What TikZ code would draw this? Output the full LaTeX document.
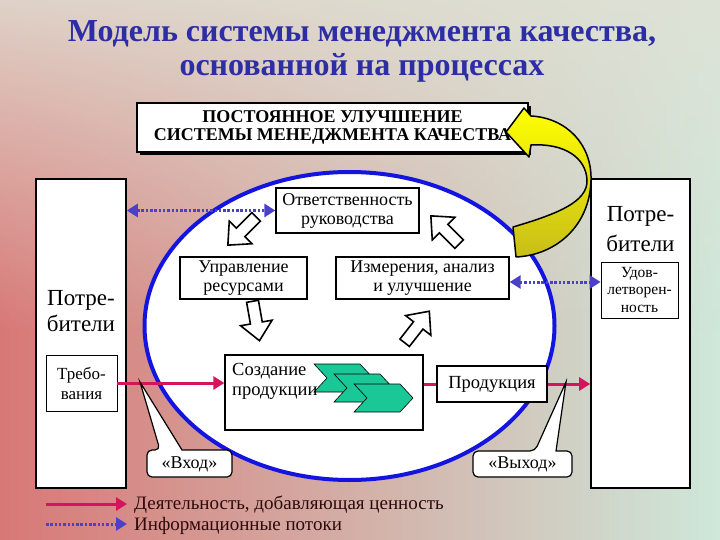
\documentclass[tikz,border=0pt]{standalone}
\usepackage{fontspec}
\setmainfont{Liberation Serif}
\usepackage{tikz}
\usetikzlibrary{
	arrows.meta,									% наконечники стрелок
	fadings,										% прозрачный градиент фона
	shadows,										% тень рамки
}

\definecolor{bgL}{RGB}{216,120,118}
\definecolor{bgM}{RGB}{214,172,162}
\definecolor{bgR}{RGB}{206,232,218}
\definecolor{bgT}{RGB}{224,226,214}
\definecolor{titleblue}{RGB}{45,45,165}
\definecolor{ellblue}{RGB}{20,20,225}
\definecolor{infoblue}{RGB}{75,65,200}
\definecolor{valpink}{RGB}{212,20,92}
\definecolor{chevgreen}{RGB}{25,200,150}
\definecolor{yarrtop}{RGB}{255,255,0}
\definecolor{yarrbot}{RGB}{200,190,25}
\definecolor{legtext}{RGB}{45,10,10}

% полая стрелка цикла: центр x, центр y, угол
\newcommand{\blockarr}[3]{%
	\draw[line width=1.6pt, fill=white, shift={(#1,#2)}, rotate=#3]
		(-20,-6) -- (2,-6) -- (2,-16) -- (20,0) -- (2,16) -- (2,6) -- (-20,6) -- cycle;}
% зелёный шеврон: левый верхний угол
\newcommand{\prodchev}[2]{%
	\draw[fill=chevgreen, line width=0.6pt, shift={(#1,#2)}]
		(0,0) -- (46,0) -- (59,14) -- (46,28) -- (0,28) -- (13,14) -- cycle;}

\begin{document}
\begin{tikzpicture}[x=1pt, y=-1pt,
	procbox/.style={draw, fill=white, line width=1.3pt, align=center, inner sep=1pt, font=\fontsize{18}{19}\selectfont},
	custbox/.style={draw, fill=white, line width=1.6pt, minimum height=309pt, inner sep=0pt},
	smallbox/.style={draw, fill=white, line width=0.8pt, align=center, inner sep=1pt},
	custtext/.style={align=center, inner sep=0pt, font=\fontsize{23}{26}\selectfont},
	>={Triangle[length=11pt, width=13pt]},
	valarr/.style={draw=valpink, line width=3pt, ->},
	infoarr/.style={draw=infoblue, line width=3pt, dash pattern=on 2.5pt off 1.8pt},
	callout/.style={draw, fill=white, line width=1.2pt},
	legend/.style={anchor=west, inner sep=0pt, text=legtext, font=\fontsize{19}{18}\selectfont},
]
	\useasboundingbox (0,0) rectangle (720,540);
	\shade[left color=bgL, middle color=bgM, right color=bgR] (0,0) rectangle (720,540);
	\fill[bgT, path fading=south, fill opacity=0.85] (0,0) rectangle (720,330);

	\node[text=titleblue, align=center, font=\bfseries\fontsize{32}{34}\selectfont] (title) at (362,51)
		{Модель системы менеджмента качества,\\основанной на процессах};
	\node[draw, fill=white, line width=1.2pt, minimum width=391pt, minimum height=49pt, align=center,
		font=\bfseries\fontsize{18}{18}\selectfont,
		drop shadow={shadow xshift=3pt, shadow yshift=-3pt, fill=black, opacity=1}] (kaizen) at (332.5,127.5)
		{ПОСТОЯННОЕ УЛУЧШЕНИЕ\\СИСТЕМЫ МЕНЕДЖМЕНТА КАЧЕСТВА};

	% процессный круг
	\draw[line width=4pt, draw=ellblue, fill=white] (349.5,326) ellipse [x radius=205, y radius=154];

	\node[custbox, minimum width=90pt] (potrL) at (81,333.5) {};
	\node[custtext] (potrLtxt) at (81,311) {Потре-\\бители};
	\node[smallbox, minimum width=71pt, minimum height=56pt, font=\fontsize{17}{20}\selectfont] (treb) at (81.5,383) {Требо-\\вания};
	\node[custbox, minimum width=99pt] (potrR) at (640.5,333.5) {};
	\node[custtext, font=\fontsize{23}{30}\selectfont] (potrRtxt) at (640.5,229) {Потре-\\бители};
	\node[smallbox, minimum width=77pt, minimum height=56pt, font=\fontsize{15.5}{17.5}\selectfont] (udov) at (639.5,290) {Удов-\\летворен-\\ность};

	\node[procbox, minimum width=143pt, minimum height=45pt] (otv) at (347.5,210.5) {Ответственность\\руководства};
	\node[procbox, minimum width=127pt, minimum height=42pt] (upr) at (243.5,278) {Управление\\ресурсами};
	\node[procbox, minimum width=173pt, minimum height=42pt] (izm) at (422.5,278) {Измерения, анализ\\и улучшение};

	\blockarr{242}{231}{225}
	\blockarr{445}{230}{135}
	\blockarr{256}{321}{-80}
	\blockarr{417}{327}{52}

	\prodchev{314}{364}
	\prodchev{334}{374}
	\prodchev{354}{384}
	\node[procbox, fill=none, minimum width=198pt, minimum height=75pt] (sozd) at (324,392.5) {};
	\node[anchor=north west, align=left, inner sep=0pt, font=\fontsize{18.5}{20}\selectfont] (sozdtxt) at (232,363) {Создание\\продукции};
	\node[procbox, minimum width=110pt, minimum height=36pt, font=\fontsize{18.5}{20}\selectfont] (prod) at (492,384) {Продукция};

	% потоки
	\draw[valarr] (treb.east) -- (treb.east -| sozd.west);
	\draw[valarr, -] (sozd.east |- prod.west) -- (prod.west);
	\draw[valarr] (prod.east) -- (prod.east -| potrR.west);
	\draw[infoarr, <->] (potrL.east |- otv.west) -- (otv.west);
	\draw[infoarr, <->] ([yshift=-4pt]izm.east) -- ([yshift=-4pt]izm.east -| udov.west);

	% выноски
	\draw[callout, rounded corners=5pt] (147,464) |- (160,450) [sharp corners] -- (140,382) -- (182,450)
		[rounded corners=5pt] -| (232,477) -| (147,464) -- cycle;
	\node[inner sep=0pt, font=\fontsize{18}{20}\selectfont] (vhod) at (189.5,464) {«Вход»};
	\draw[callout, rounded corners=5pt] (473,464) |- (535,451) [sharp corners] -- (566,382) -- (556,451)
		[rounded corners=5pt] -| (572,477) -| (473,464) -- cycle;
	\node[inner sep=0pt, font=\fontsize{18}{20}\selectfont] (vyhod) at (522.5,464) {«Выход»};

	% жёлтая стрелка улучшения
	\draw[line width=1.5pt, line join=round, top color=yarrtop, middle color=yarrtop, bottom color=yarrbot]
		(513,227) .. controls (557,214) and (588,202) .. (587,180)
		.. controls (586,158) and (565,143) .. (531,145)
		-- (529,157) -- (506,132) -- (524,108) -- (531,116)
		.. controls (567,118) and (592,145) .. (591,180)
		.. controls (590,225) and (557,255) .. (516,257) -- cycle;

	% легенда
	\coordinate (lv) at (46,504);
	\coordinate (lvend) at (127,504);
	\coordinate (li) at (46,524);
	\coordinate (liend) at (127,524);
	\draw[valarr] (lv) -- (lvend);
	\draw[infoarr, ->] (li) -- (liend);
	\node[legend] (legval) at (134,505) {Деятельность, добавляющая ценность};
	\node[legend] (leginfo) at (134,526) {Информационные потоки};
\end{tikzpicture}
\end{document}
